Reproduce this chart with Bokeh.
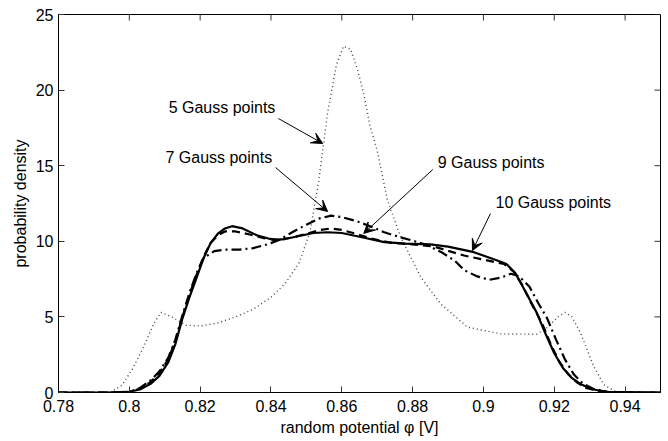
import math
from bokeh.plotting import figure
from bokeh.models import FixedTicker, Label, Arrow, VeeHead, Range1d
from bokeh.embed import file_html
from bokeh.resources import INLINE

# ---- data ----
x5 = [0.78, 0.79, 0.795, 0.798, 0.801, 0.804, 0.807, 0.809, 0.812, 0.816, 0.82, 0.825,
      0.83, 0.835, 0.84, 0.844, 0.848, 0.851, 0.8535, 0.856, 0.8585, 0.8605, 0.8625,
      0.8645, 0.8662, 0.868, 0.870, 0.8729, 0.8766, 0.8823, 0.8879, 0.8955, 0.905,
      0.915, 0.918, 0.921, 0.923, 0.925, 0.9275, 0.931, 0.934, 0.937, 0.94, 0.95]
y5 = [0, 0, 0.05, 0.5, 1.6, 3.0, 4.6, 5.3, 5.0, 4.45, 4.4, 4.6,
      5.0, 5.5, 6.3, 7.2, 8.6, 10.6, 14.0, 18.5, 21.7, 22.9, 22.7,
      21.3, 19.75, 17.6, 16.0, 12.7, 10.3, 7.63, 5.87, 4.32, 3.88,
      3.85, 4.3, 5.0, 5.3, 5.0, 3.9, 1.8, 0.5, 0.1, 0, 0]

x7 = [0.78, 0.795, 0.80, 0.803, 0.806, 0.8085, 0.811, 0.813, 0.815, 0.817, 0.819,
      0.821, 0.824, 0.827, 0.831, 0.835, 0.839, 0.8425, 0.846, 0.850, 0.8535, 0.857,
      0.860, 0.864, 0.868, 0.872, 0.876, 0.880, 0.884, 0.888, 0.892, 0.8945, 0.898,
      0.9016, 0.905, 0.9077, 0.910, 0.913, 0.9155, 0.918, 0.9205, 0.923, 0.9255,
      0.928, 0.931, 0.935, 0.94, 0.95]
y7 = [0, 0, 0.05, 0.3, 0.8, 1.4, 2.3, 3.5, 5.1, 6.6, 7.9,
      8.9, 9.35, 9.45, 9.45, 9.55, 9.8, 10.1, 10.6, 11.1, 11.5, 11.7,
      11.6, 11.35, 11.0, 10.6, 10.3, 10.05, 9.75, 9.3, 8.7, 8.1, 7.7,
      7.45, 7.6, 7.85, 7.7, 7.0, 5.9, 4.9, 3.5, 2.2, 1.2,
      0.6, 0.25, 0.05, 0, 0]

x9 = [0.78, 0.795, 0.80, 0.803, 0.806, 0.8085, 0.811, 0.813, 0.815, 0.817, 0.819,
      0.821, 0.823, 0.825, 0.827, 0.830, 0.834, 0.838, 0.842, 0.846, 0.850, 0.854,
      0.857, 0.860, 0.864, 0.868, 0.874, 0.88, 0.886, 0.8945, 0.9058, 0.9085, 0.911,
      0.9135, 0.9165, 0.919, 0.9215, 0.924, 0.9265, 0.929, 0.933, 0.937, 0.95]
y9 = [0, 0, 0.05, 0.25, 0.7, 1.3, 2.2, 3.4, 5.0, 6.5, 7.8,
      9.0, 9.9, 10.4, 10.65, 10.65, 10.45, 10.2, 10.1, 10.25, 10.5, 10.75,
      10.85, 10.75, 10.5, 10.2, 9.9, 9.8, 9.65, 9.06, 8.5, 8.0, 7.1,
      5.9, 4.6, 3.2, 2.0, 1.2, 0.65, 0.3, 0.08, 0, 0]

x10 = [0.78, 0.795, 0.80, 0.803, 0.806, 0.8085, 0.811, 0.813, 0.815, 0.817, 0.819,
       0.821, 0.823, 0.825, 0.827, 0.829, 0.832, 0.836, 0.8405, 0.844, 0.848, 0.852,
       0.856, 0.86, 0.866, 0.872, 0.878, 0.885, 0.89, 0.8973, 0.9039, 0.9065, 0.909,
       0.9125, 0.915, 0.9175, 0.92, 0.9225, 0.925, 0.9275, 0.931, 0.935, 0.95]
y10 = [0, 0, 0.05, 0.2, 0.57, 1.1, 2.0, 3.2, 4.9, 6.3, 7.6,
       8.9, 9.9, 10.5, 10.85, 11.0, 10.85, 10.4, 10.1, 10.15, 10.35, 10.55,
       10.6, 10.55, 10.25, 9.95, 9.85, 9.8, 9.65, 9.28, 8.73, 8.5, 7.9,
       6.4, 5.3, 3.9, 2.6, 1.6, 0.95, 0.55, 0.2, 0.05, 0]

x_ticks = [0.78, 0.80, 0.82, 0.84, 0.86, 0.88, 0.90, 0.92, 0.94]
x_tick_labels = ["0.78", "0.8", "0.82", "0.84", "0.86", "0.88", "0.9", "0.92", "0.94"]
y_ticks = [0, 5, 10, 15, 20, 25]

# annotation texts and anchors (data units)
ann_text = ["5 Gauss points", "7 Gauss points", "9 Gauss points", "10 Gauss points"]
ann_tx = [0.8111, 0.8102, 0.8871, 0.9034]
ann_ty = [18.85, 15.54, 15.21, 12.57]
arr_x0 = [0.8421, 0.8413, 0.8857, 0.9020]
arr_y0 = [18.12, 14.88, 14.75, 11.84]
arr_x1 = [0.8546, 0.8560, 0.8662, 0.8969]
arr_y1 = [16.47, 11.97, 10.52, 9.39]

FONT = "Liberation Sans"
TICK_COLOR = "#333333"

p = figure(width=668, height=441, output_backend="svg", toolbar_location=None,
           x_range=Range1d(0.78, 0.95), y_range=Range1d(0, 25),
           min_border_left=58, min_border_right=8, min_border_top=14, min_border_bottom=49)
p.grid.visible = False
p.outline_line_color = "black"
p.outline_line_width = 1
p.background_fill_color = "white"
p.border_fill_color = "white"

p.xaxis.ticker = FixedTicker(ticks=x_ticks)
p.xaxis.major_label_overrides = {t: s for t, s in zip(x_ticks, x_tick_labels)}
p.yaxis.ticker = FixedTicker(ticks=y_ticks)
for ax in (p.xaxis[0], p.yaxis[0]):
    ax.major_tick_in = 6
    ax.major_tick_out = 0
    ax.minor_tick_line_color = None
    ax.major_tick_line_color = TICK_COLOR
    ax.axis_line_color = "black"
    ax.major_label_text_font = FONT
    ax.major_label_text_font_size = "16px"
    ax.major_label_text_color = "black"
    ax.axis_label_text_font = FONT
    ax.axis_label_text_font_size = "16px"
    ax.axis_label_text_font_style = "normal"
    ax.axis_label_text_color = "black"
p.xaxis.axis_label = "random potential \u03c6 [V]"
p.yaxis.axis_label = "probability density"
p.xaxis.major_label_standoff = 7
p.xaxis.axis_label_standoff = 4
p.yaxis.major_label_standoff = 5
p.yaxis.axis_label_standoff = 4

# inward tick marks on the top and right edges of the box
p.ray(x=x_ticks, y=[p.y_range.end] * len(x_ticks), length=6, length_units="screen",
      angle=-math.pi / 2, line_color=TICK_COLOR, line_width=1)
p.ray(x=[p.x_range.end] * len(y_ticks), y=y_ticks, length=6, length_units="screen",
      angle=math.pi, line_color=TICK_COLOR, line_width=1)

p.line(x5, y5, line_color="#444444", line_width=1.4, line_dash="1 3")
p.line(x10, y10, line_color="black", line_width=2.2)
p.line(x9, y9, line_color="black", line_width=2.2, line_dash="8 5")
p.line(x7, y7, line_color="black", line_width=2.2, line_dash="10 4 2 4")

for t, tx, ty in zip(ann_text, ann_tx, ann_ty):
    p.add_layout(Label(x=tx, y=ty, text=t, text_font=FONT, text_font_size="16px",
                       text_color="black", text_baseline="middle", text_align="left"))
for xa, ya, xb, yb in zip(arr_x0, arr_y0, arr_x1, arr_y1):
    p.add_layout(Arrow(end=VeeHead(size=11, fill_color="black", line_color="black",
                                   line_width=1),
                       x_start=xa, y_start=ya, x_end=xb, y_end=yb,
                       line_color="black", line_width=1))

open("out.html", "w").write(file_html(p, INLINE))
